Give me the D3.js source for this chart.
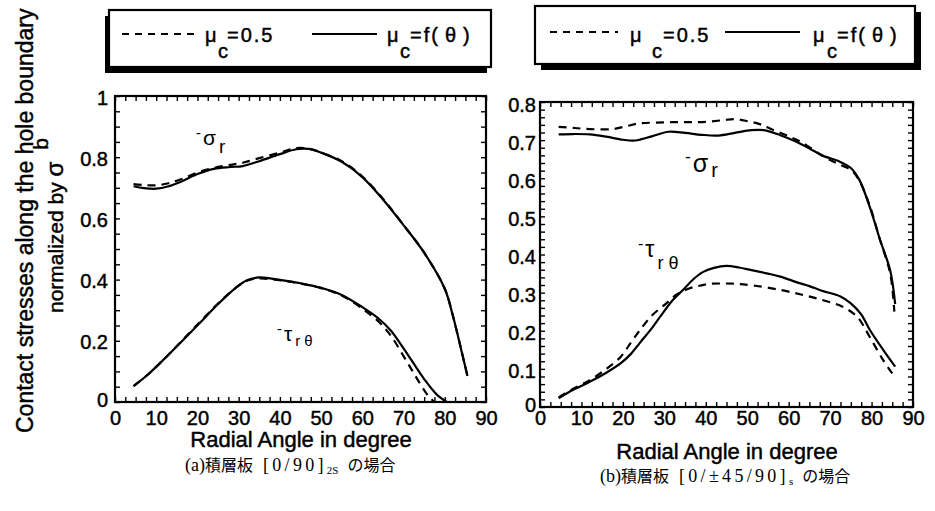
<!DOCTYPE html>
<html><head><meta charset="utf-8">
<script src="https://cdn.jsdelivr.net/npm/d3@7"></script>
<style>
body{margin:0;background:#fff;}
svg{display:block;font-family:"Liberation Sans",Arial,sans-serif;}
</style></head>
<body>
<svg id="c" width="935" height="511"></svg>
<script>
// ---------- data: panel (a) laminate [0/90]2s ----------
const aSigFx = [4.5, 7, 10, 13, 16, 20, 24, 28, 31, 35, 40, 44, 47, 50, 55, 60, 65, 70, 75, 80, 82, 84, 85.5];
const aSigFy = [0.705, 0.699, 0.697, 0.705, 0.72, 0.745, 0.762, 0.768, 0.771, 0.787, 0.81, 0.826, 0.827, 0.815, 0.785, 0.735, 0.662, 0.578, 0.488, 0.37, 0.28, 0.17, 0.085];
const aSig05x = [4.5, 7, 10, 13, 16, 20, 24, 28, 31, 35, 40, 44, 47, 50, 55, 60, 65, 70, 75, 80, 82, 84, 85.5];
const aSig05y = [0.712, 0.709, 0.708, 0.715, 0.728, 0.75, 0.765, 0.775, 0.782, 0.797, 0.815, 0.83, 0.828, 0.815, 0.787, 0.737, 0.664, 0.578, 0.488, 0.37, 0.28, 0.17, 0.085];
const aTauFx = [4.5, 8, 12.5, 16, 20.5, 25, 29, 32, 35, 38, 42, 45, 50, 55, 60, 64, 67, 70, 72, 75, 78, 80.5];
const aTauFy = [0.052, 0.09, 0.148, 0.195, 0.257, 0.32, 0.37, 0.398, 0.407, 0.403, 0.395, 0.388, 0.373, 0.35, 0.31, 0.272, 0.232, 0.175, 0.135, 0.075, 0.025, 0.0];
const aTau05x = [4.5, 8, 12.5, 16, 20.5, 25, 29, 32, 35, 38, 42, 45, 50, 55, 60, 64, 67, 70, 72, 74, 76, 77.5];
const aTau05y = [0.052, 0.09, 0.148, 0.197, 0.26, 0.322, 0.37, 0.396, 0.404, 0.401, 0.394, 0.387, 0.372, 0.348, 0.305, 0.262, 0.215, 0.15, 0.105, 0.06, 0.02, 0.0];

// ---------- data: panel (b) laminate [0/±45/90]s ----------
const bSigFx = [4.5, 8, 12, 16, 20, 23, 27, 31, 35, 39, 43, 47, 51, 54, 58, 62, 66, 68, 72, 75, 77, 79.5, 82, 84.5, 85.7];
const bSigFy = [0.715, 0.716, 0.715, 0.709, 0.701, 0.699, 0.71, 0.722, 0.719, 0.714, 0.712, 0.719, 0.726, 0.726, 0.713, 0.695, 0.672, 0.66, 0.645, 0.627, 0.597, 0.527, 0.44, 0.358, 0.27];
const bSig05x = [4.5, 8, 12, 17.5, 21, 24, 28, 32, 36, 40, 44, 47, 50, 53, 56, 60, 63, 67, 70, 72.5, 75, 77, 79.5, 82, 84.5, 85.5];
const bSig05y = [0.735, 0.732, 0.729, 0.729, 0.737, 0.744, 0.746, 0.747, 0.747, 0.748, 0.752, 0.755, 0.75, 0.742, 0.728, 0.71, 0.695, 0.667, 0.648, 0.635, 0.622, 0.595, 0.53, 0.44, 0.35, 0.25];
const bTauFx = [4.5, 8, 12, 16, 19.5, 22, 24, 27, 29, 32, 34.5, 37, 39.5, 42, 45, 48, 51, 55, 58, 62, 65, 68, 72.5, 75, 77.5, 79.6, 82.8, 85.7];
const bTauFy = [0.023, 0.045, 0.066, 0.09, 0.115, 0.14, 0.167, 0.207, 0.237, 0.28, 0.307, 0.335, 0.355, 0.365, 0.37, 0.366, 0.359, 0.35, 0.342, 0.327, 0.317, 0.305, 0.29, 0.272, 0.243, 0.202, 0.15, 0.106];
const bTau05x = [4.5, 8, 12, 16, 19.5, 22, 24, 27, 30.5, 33, 36, 38.5, 41, 44, 47.5, 52, 58, 63, 68, 73, 76.5, 79.5, 82.8, 85];
const bTau05y = [0.025, 0.048, 0.07, 0.1, 0.132, 0.17, 0.2, 0.24, 0.272, 0.295, 0.311, 0.318, 0.323, 0.324, 0.323, 0.318, 0.307, 0.295, 0.281, 0.263, 0.237, 0.185, 0.123, 0.088];

// ---------- ticks ----------
const xTickLabels = [0, 10, 20, 30, 40, 50, 60, 70, 80, 90];
const xMinorTicks = d3.range(0, 90.01, 2.5);
const aYTickLabels = [0, 0.2, 0.4, 0.6, 0.8, 1];
const aYMinorTicks = d3.range(0, 1.001, 0.05);
const bYTickLabels = [0, 0.1, 0.2, 0.3, 0.4, 0.5, 0.6, 0.7, 0.8];
const bYMinorTicks = d3.range(0, 0.801, 0.02);

const svg = d3.select("#c");
const zip = (xs, ys) => xs.map((v, i) => [v, ys[i]]);
const thick = s => s.attr("stroke", "#000").attr("stroke-width", 0.45);

function panel(cfg) {
  const {x, y, yT, yLab, yFmt, labPadX, labDyY, xLabY, curves} = cfg;
  const g = svg.append("g");
  const [x0, x1] = x.range(), [y0, y1] = y.range();
  const strip = s => s.call(q => q.select(".domain").remove());
  g.append("g").attr("transform", `translate(0,${y0})`).call(d3.axisBottom(x).tickValues(xMinorTicks).tickSize(-5).tickFormat("")).call(strip);
  g.append("g").attr("transform", `translate(0,${y1})`).call(d3.axisTop(x).tickValues(xMinorTicks).tickSize(-5).tickFormat("")).call(strip);
  g.append("g").attr("transform", `translate(${x0},0)`).call(d3.axisLeft(y).tickValues(yT).tickSize(-5).tickFormat("")).call(strip);
  g.append("g").attr("transform", `translate(${x1},0)`).call(d3.axisRight(y).tickValues(yT).tickSize(-5).tickFormat("")).call(strip);
  g.selectAll(".tick line").attr("stroke", "#000").attr("stroke-width", 1.4);
  const xl = g.append("g").attr("transform", `translate(0,${y0})`).call(d3.axisBottom(x).tickValues(xTickLabels).tickSize(0)).call(strip);
  xl.selectAll("text").attr("y", xLabY).attr("dy", null).attr("font-size", 20).attr("font-family", "Liberation Sans, Arial, sans-serif").attr("fill", "#000").call(thick);
  const yl = g.append("g").attr("transform", `translate(${x0},0)`).call(d3.axisLeft(y).tickValues(yLab).tickSize(0).tickFormat(yFmt)).call(strip);
  yl.selectAll("text").attr("x", -labPadX).attr("dy", null).attr("y", d => d === 0 ? 4 : labDyY).attr("font-size", 20).attr("font-family", "Liberation Sans, Arial, sans-serif").attr("fill", "#000").call(thick);
  const line = d3.line().x(d => x(d[0])).y(d => y(d[1])).curve(d3.curveCatmullRom.alpha(0.5));
  curves.forEach(c => {
    g.append("path").attr("d", line(c.data)).attr("fill", "none").attr("stroke", "#000")
      .attr("stroke-width", 2.2).attr("stroke-dasharray", c.dash ? "8,6" : null);
  });
  g.append("rect").attr("x", x0).attr("y", y1).attr("width", x1 - x0).attr("height", y0 - y1)
    .attr("fill", "none").attr("stroke", "#000").attr("stroke-width", 2.2);
  return g;
}

const xa = d3.scaleLinear().domain([0, 90]).range([115, 486]);
const ya = d3.scaleLinear().domain([0, 1]).range([402, 96]);
const xb = d3.scaleLinear().domain([0, 90]).range([540, 913]);
const yb = d3.scaleLinear().domain([0, 0.8]).range([407, 102]);

panel({x: xa, y: ya, yT: aYMinorTicks, yLab: aYTickLabels,
  yFmt: d => (d === 0 || d === 1) ? String(d) : d.toFixed(1), labPadX: 7, labDyY: 8, xLabY: 23,
  curves: [{data: zip(aSig05x, aSig05y), dash: true}, {data: zip(aSigFx, aSigFy)},
           {data: zip(aTau05x, aTau05y), dash: true}, {data: zip(aTauFx, aTauFy)}]});
panel({x: xb, y: yb, yT: bYMinorTicks, yLab: bYTickLabels,
  yFmt: d => d === 0 ? "0" : d.toFixed(1), labPadX: 4, labDyY: 9, xLabY: 18,
  curves: [{data: zip(bSig05x, bSig05y), dash: true}, {data: zip(bSigFx, bSigFy)},
           {data: zip(bTau05x, bTau05y), dash: true}, {data: zip(bTauFx, bTauFy)}]});

// ---------- curve annotations ----------
function ann(px, py, sym, sub, size, subSize, subDy) {
  const t = svg.append("text").attr("x", px).attr("y", py).attr("fill", "#000").attr("font-size", size);
  t.append("tspan").text("-").attr("font-size", size * 0.7).attr("dy", -size * 0.35);
  t.append("tspan").text(sym).attr("dx", 2).attr("dy", size * 0.35);
  t.append("tspan").text(sub).attr("font-size", subSize).attr("dx", 3).attr("dy", subDy);
}
ann(196, 145, "σ", "r", 21, 19, 8);
ann(277, 341, "τ", "r θ", 21, 15, 5);
ann(685, 172, "σ", "r", 25, 20, 5);
ann(638, 257, "τ", "r θ", 23, 18, 12);

// ---------- legends ----------
function legendBox(bx, by, bw, bh, sx, sy) {
  svg.append("rect").attr("x", bx + sx).attr("y", by + sy).attr("width", bw).attr("height", bh).attr("fill", "#000");
  svg.append("rect").attr("x", bx).attr("y", by).attr("width", bw).attr("height", bh).attr("fill", "#fff").attr("stroke", "#000").attr("stroke-width", 2.2);
}
function mu(px, cx, restX, base) {
  svg.append("text").attr("x", px).attr("y", base).attr("font-size", 20).text("μ").call(thick);
  svg.append("text").attr("x", cx).attr("y", base + 16).attr("font-size", 20).text("c").call(thick);
  return svg.append("text").attr("x", restX).attr("y", base).attr("font-size", 20).attr("letter-spacing", 2).call(thick);
}
function legendLines(dx0, dx1, sx0, sx1, ly) {
  svg.append("line").attr("x1", dx0).attr("x2", dx1).attr("y1", ly).attr("y2", ly).attr("stroke", "#000").attr("stroke-width", 2).attr("stroke-dasharray", "7,6");
  svg.append("line").attr("x1", sx0).attr("x2", sx1).attr("y1", ly).attr("y2", ly).attr("stroke", "#000").attr("stroke-width", 2);
}
function fTheta(t) {
  t.append("tspan").text("=f(");
  t.append("tspan").attr("dx", 5).text("θ");
  t.append("tspan").attr("dx", 5).text(")");
}
legendBox(109, 10, 382, 57, -4, 6);
legendLines(122, 197, 312, 377, 34);
mu(205, 218, 227, 42).text("=0.5");
fTheta(mu(387, 400, 410, 42));

legendBox(535, 6, 380, 58, 6, 6);
legendLines(550, 618, 725, 800, 32);
mu(630, 652, 663, 42).text("=0.5");
fTheta(mu(813, 827, 837, 42));

// ---------- axis titles ----------
svg.append("text").attr("x", 301).attr("y", 447).attr("text-anchor", "middle").attr("font-size", 22).text("Radial Angle in degree").call(thick);
svg.append("text").attr("x", 727).attr("y", 459).attr("text-anchor", "middle").attr("font-size", 22).text("Radial Angle in degree").call(thick);

svg.append("text").attr("transform", "translate(33,433) rotate(-90)").attr("font-size", 23)
  .text("Contact stresses along the hole boundary").call(thick);
const yt2 = svg.append("text").attr("transform", "translate(63,313) rotate(-90)").call(thick);
yt2.append("tspan").attr("font-size", 21).text("normalized by ");
yt2.append("tspan").attr("font-size", 24).text("σ");
yt2.append("tspan").attr("font-size", 21).attr("dx", 12).attr("dy", -15).text("b");

// ---------- captions ----------
function caption(px, py, pre, mid, sub) {
  const t = svg.append("text").attr("x", px).attr("y", py).attr("font-size", 18)
    .attr("font-family", "Liberation Serif, 'Noto Sans CJK JP', serif");
  t.append("tspan").text(pre);
  t.append("tspan").attr("font-family", "'Noto Sans CJK JP'").attr("font-size", 16).text("積層板");
  t.append("tspan").attr("dx", 10).attr("letter-spacing", 3.3).text(mid);
  t.append("tspan").attr("font-size", 11).attr("letter-spacing", 0).attr("dy", 3).text(sub);
  t.append("tspan").attr("font-family", "'Noto Sans CJK JP'").attr("font-size", 16).attr("dx", 9).attr("dy", -3).text("の場合");
}
caption(185, 471, "(a)", "[0/90]", "2S");
caption(600, 482, "(b)", "[0/±45/90]", "s");
</script>
</body></html>
